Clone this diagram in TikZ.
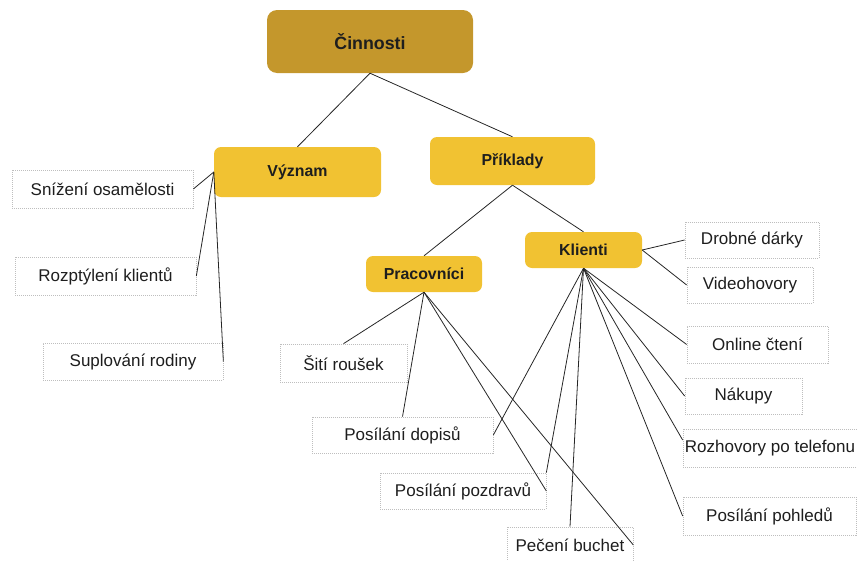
\documentclass[tikz,border=0pt]{standalone}
\usepackage{fontspec}
\setmainfont{Liberation Sans}
\definecolor{topc}{RGB}{196,151,44}
\definecolor{midc}{RGB}{241,194,50}
\definecolor{txt}{RGB}{30,30,30}
\definecolor{leafb}{RGB}{190,190,190}
\begin{document}
\begin{tikzpicture}[x=1pt,y=-1pt,
  topbox/.style={draw=none,fill=topc,rounded corners=10pt,text=txt,font=\fontsize{17.8}{20}\selectfont\bfseries,inner sep=0pt},
  midbox/.style={draw=none,fill=midc,rounded corners=7pt,text=txt,font=\fontsize{15.9}{18}\selectfont\bfseries,inner sep=0pt},
  leaf/.style={draw=leafb,line width=0.7pt,dash pattern=on 1pt off 1pt,fill=white,text=txt,font=\fontsize{17}{19}\selectfont,inner sep=0pt},
  conn/.style={draw=black!85,line width=0.8pt}]
\useasboundingbox (0,0) rectangle (857,560);
% main nodes
\node[topbox,minimum width=206pt,minimum height=63pt] (cin) at (370,41.5) {Činnosti};
\node[midbox,minimum width=167pt,minimum height=50pt] (vyz) at (297.5,172) {Význam};
\node[midbox,minimum width=165pt,minimum height=48pt] (pri) at (512.5,161) {Příklady};
\node[midbox,minimum width=116pt,minimum height=36pt] (pra) at (424,274) {Pracovníci};
\node[midbox,minimum width=117pt,minimum height=36pt] (kli) at (583.5,250) {Klienti};
% leaves
\node[leaf,minimum width=181pt,minimum height=38pt] (sniz) at (102.5,189) {Snížení osamělosti};
\node[leaf,minimum width=181pt,minimum height=38pt] (rozp) at (105.5,276) {Rozptýlení klientů};
\node[leaf,minimum width=180pt,minimum height=37pt] (supl) at (133,361.5) {Suplování rodiny};
\node[leaf,minimum width=127pt,minimum height=38pt] (siti) at (343.5,363) {Šití roušek};
\node[leaf,minimum width=181pt,minimum height=36pt] (dop) at (402.5,435) {Posílání dopisů};
\node[leaf,minimum width=166pt,minimum height=36pt] (pozd) at (463,491) {Posílání pozdravů};
\node[leaf,minimum width=126pt,minimum height=36pt] (pec) at (570,545) {Pečení buchet};
\node[leaf,minimum width=134pt,minimum height=36pt] (drob) at (752,240) {Drobné dárky};
\node[leaf,minimum width=126pt,minimum height=36pt] (video) at (750,285) {Videohovory};
\node[leaf,minimum width=141pt,minimum height=37pt] (onl) at (757.5,344.5) {Online čtení};
\node[leaf,minimum width=117pt,minimum height=36pt] (nak) at (743.5,396) {Nákupy};
\node[leaf,minimum width=174pt,minimum height=38pt] (rozh) at (770,448) {Rozhovory po telefonu};
\node[leaf,minimum width=173pt,minimum height=38pt] (pohl) at (769.5,516) {Posílání pohledů};
% connectors
\draw[conn] (cin.south) -- (vyz.north);
\draw[conn] (cin.south) -- (pri.north);
\draw[conn] (pri.south) -- (pra.north);
\draw[conn] (pri.south) -- (kli.north);
\draw[conn] (vyz.west) -- (sniz.east);
\draw[conn] (vyz.west) -- (rozp.east);
\draw[conn] (vyz.west) -- (supl.east);
\draw[conn] (pra.south) -- (siti.north);
\draw[conn] (pra.south) -- (dop.north);
\draw[conn] (pra.south) -- (pozd.east);
\draw[conn] (pra.south) -- (pec.east);
\draw[conn] (kli.south) -- (dop.east);
\draw[conn] (kli.south) -- (pozd.north east);
\draw[conn] (kli.south) -- (pec.north);
\draw[conn] (kli.east) -- (drob.west);
\draw[conn] (kli.east) -- (video.west);
\draw[conn] (kli.south) -- (onl.west);
\draw[conn] (kli.south) -- (nak.west);
\draw[conn] (kli.south) -- ([yshift=8pt]rozh.west);
\draw[conn] (kli.south) -- (pohl.west);
\end{tikzpicture}
\end{document}
